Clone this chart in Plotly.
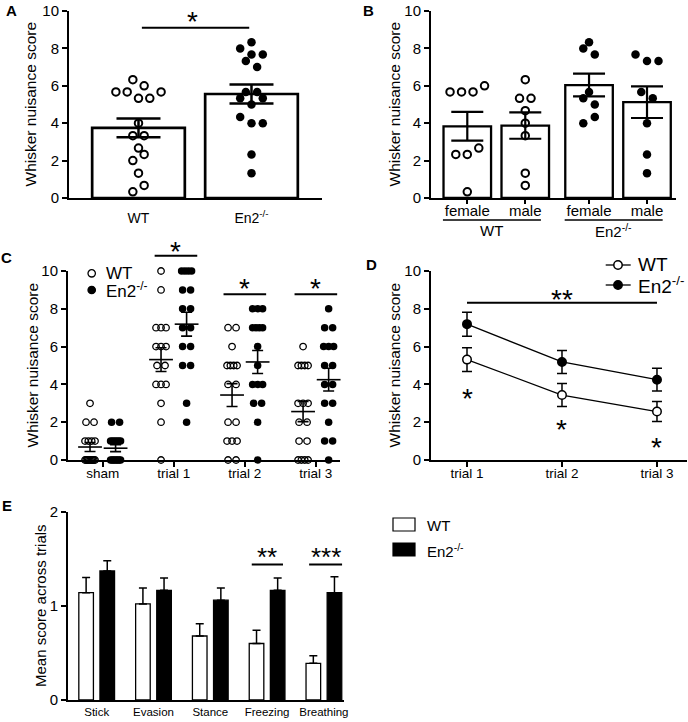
import numpy as np
import plotly.graph_objects as go

W, H = 688, 722
FONT = "Liberation Sans, Arial, Helvetica, sans-serif"

# ---------------- data ----------------
# Panel A : mean whisker nuisance score per mouse
a_groups = ["WT", "En2<sup>-/-</sup>"]
a_wt = [6.33, 6.0, 5.67, 5.67, 5.33, 5.33, 5.67, 4.0, 3.33, 3.33, 2.67, 2.0, 2.33, 1.33, 0.33, 0.67]
a_ko = [8.33, 8.0, 7.67, 7.67, 7.33, 7.0, 5.67, 5.67, 5.33, 5.0, 5.33, 4.33, 4.0, 4.0, 2.33, 1.33]

# Panel B : split by sex
b_sex = ["female", "male", "female", "male"]
b_genotypes = ["WT", "En2<sup>-/-</sup>"]
b_wt_f = [5.67, 5.67, 5.67, 6.0, 2.33, 2.33, 2.67, 0.33]
b_wt_m = [6.33, 5.33, 5.33, 4.67, 4.0, 3.33, 1.33, 0.67]
b_ko_f = [8.33, 8.0, 7.67, 5.67, 5.33, 5.0, 4.0, 4.33]
b_ko_m = [7.67, 7.33, 7.33, 5.67, 5.33, 4.0, 2.33, 1.33]

# Panel C / D : scores per trial
trials = ["sham", "trial 1", "trial 2", "trial 3"]
c_wt_sham = [3, 2, 2, 1, 1, 1, 1, 0, 0, 0, 0, 0, 0, 0, 0, 0]
c_ko_sham = [2, 2, 1, 1, 1, 1, 1, 1, 0, 0, 0, 0, 0, 0, 0, 0]
c_wt_t1 = [10, 9, 7, 7, 7, 6, 6, 6, 5, 5, 4, 4, 4, 3, 2, 0]
c_ko_t1 = [10, 10, 10, 10, 9, 9, 8, 8, 7, 7, 6, 6, 5, 5, 3, 2]
c_wt_t2 = [7, 7, 6, 5, 5, 5, 5, 4, 4, 2, 2, 1, 1, 1, 0, 0]
c_ko_t2 = [8, 8, 8, 7, 7, 7, 7, 6, 5, 4, 4, 4, 3, 3, 2, 0]
c_wt_t3 = [6, 5, 5, 5, 5, 3, 3, 3, 2, 2, 1, 1, 0, 0, 0, 0]
c_ko_t3 = [8, 7, 7, 6, 6, 6, 5, 5, 4, 4, 3, 3, 2, 1, 1, 0]

# Panel E : mean score across trials per behaviour
e_behaviours = ["Stick", "Evasion", "Stance", "Freezing", "Breathing"]
e_wt_mean = [1.14, 1.02, 0.68, 0.60, 0.39]
e_wt_sem = [0.16, 0.17, 0.13, 0.14, 0.08]
e_ko_mean = [1.37, 1.165, 1.06, 1.165, 1.14]
e_ko_sem = [0.11, 0.13, 0.13, 0.13, 0.17]


# ---------------- helpers ----------------
def mean(v):
    return float(np.mean(v))


def sem(v):
    return float(np.std(v, ddof=1) / np.sqrt(len(v)))


def swarm(values, center, ppx, ppy, spacing, row_px=11.0, max_span=None):
    order = sorted(range(len(values)), key=lambda i: values[i])
    rows = []
    for i in order:
        if rows and (values[i] - values[rows[-1][0]]) * ppy < row_px:
            rows[-1].append(i)
        else:
            rows.append([i])
    xs = [center] * len(values)
    for r in rows:
        r = sorted(r)
        n = len(r)
        sp = spacing
        if max_span is not None and n > 1:
            sp = min(sp, max_span / (n - 1))
        for k, i in enumerate(r):
            xs[i] = center + (k - (n - 1) / 2) * sp / ppx
    return xs


def xax(px0, px1, rng, anchor, **kw):
    d = dict(domain=[px0 / W, px1 / W], range=rng, anchor=anchor, showline=True,
             linecolor="black", linewidth=2, showgrid=False, zeroline=False,
             automargin=False,
             ticks="outside", tickcolor="black", tickwidth=2, ticklen=5,
             tickfont=dict(family=FONT, size=14, color="black"), fixedrange=True)
    d.update(kw)
    return d


def yax(py_top, py_bot, rng, anchor, tickvals, **kw):
    d = dict(domain=[1 - py_bot / H, 1 - py_top / H], range=rng, anchor=anchor,
             showline=True, linecolor="black", linewidth=2, showgrid=False,
             zeroline=False, automargin=False, ticks="outside", tickcolor="black", tickwidth=2,
             ticklen=5, tickvals=tickvals,
             tickfont=dict(family=FONT, size=15, color="black"), fixedrange=True)
    d.update(kw)
    return d


fig = go.Figure()
annotations = []
shapes = []


def ann(x, y, text, size, **kw):
    a = dict(x=x / W, y=1 - y / H, xref="paper", yref="paper", text=text, showarrow=False,
             xanchor="center", yanchor="middle",
             font=dict(family=FONT, size=size, color="black"))
    a.update(kw)
    annotations.append(a)


def star(x, y, text, xref, yref, size=28):
    annotations.append(dict(x=x, y=y, xref=xref, yref=yref, text=text, showarrow=False,
                            xanchor="center", yanchor="middle", yshift=-0.23 * size,
                            font=dict(family=FONT, size=size, color="black")))


def hline(x0, x1, y, xref, yref, width=2):
    shapes.append(dict(type="line", x0=x0, x1=x1, y0=y, y1=y, xref=xref, yref=yref,
                       line=dict(color="black", width=width)))


# ---------------- Panel A ----------------
A_px = (69, 322)
A_rng = [-0.615, 1.624]
A_py = (11, 198)
ppx_a = (A_px[1] - A_px[0]) / (A_rng[1] - A_rng[0])
ppy_a = (A_py[1] - A_py[0]) / 10.0
a_sets = [a_wt, a_ko]
fig.add_trace(go.Bar(x=[0, 1], y=[mean(v) for v in a_sets], width=0.82,
                     marker=dict(color="white", line=dict(color="black", width=2.7)),
                     error_y=dict(type="data", array=[sem(v) for v in a_sets], width=22,
                                  thickness=2.5, color="black"),
                     xaxis="x", yaxis="y"))
for i, v in enumerate(a_sets):
    xs = swarm(v, i, ppx_a, ppy_a, 11.3)
    fig.add_trace(go.Scatter(x=xs, y=v, mode="markers", cliponaxis=False,
                             marker=dict(symbol="circle-open" if i == 0 else "circle",
                                         size=7.5 if i == 0 else 8.5, color="black",
                                         line=dict(width=2 if i == 0 else 0, color="black")),
                             xaxis="x", yaxis="y"))
hline(0.03, 0.98, 9.1, "x", "y")
star(0.48, 9.79, "*", "x", "y")

# ---------------- Panel B ----------------
B_px = (431, 676)
B_rng = [-0.626, 3.6]
ppx_b = (B_px[1] - B_px[0]) / (B_rng[1] - B_rng[0])
b_sets = [b_wt_f, b_wt_m, b_ko_f, b_ko_m]
b_pos = [g * 2.1 + s for g in range(2) for s in range(2)]
fig.add_trace(go.Bar(x=b_pos, y=[mean(v) for v in b_sets], width=0.82,
                     marker=dict(color="white", line=dict(color="black", width=2.3)),
                     error_y=dict(type="data", array=[sem(v) for v in b_sets], width=16,
                                  thickness=2.2, color="black"),
                     xaxis="x2", yaxis="y2"))
for k, v in enumerate(b_sets):
    wt = k < 2
    xs = swarm(v, b_pos[k], ppx_b, ppy_a, 11.5)
    fig.add_trace(go.Scatter(x=xs, y=v, mode="markers", cliponaxis=False,
                             marker=dict(symbol="circle-open" if wt else "circle",
                                         size=7.5 if wt else 8.5, color="black",
                                         line=dict(width=2 if wt else 0, color="black")),
                             xaxis="x2", yaxis="y2"))
for g in range(2):
    x0 = b_pos[2 * g] - 0.42
    x1 = b_pos[2 * g + 1] + 0.27
    hline(x0, x1, 1 - 220 / H, "x2", "paper", width=1.5)
    annotations.append(dict(x=(x0 + x1) / 2, y=1 - 231 / H, xref="x2", yref="paper",
                            text=b_genotypes[g], showarrow=False,
                            xanchor="center", yanchor="middle",
                            font=dict(family=FONT, size=15, color="black")))

# ---------------- Panel C ----------------
C_px = (68, 340)
C_rng = [-0.49, 3.34]
C_py = (271, 460)
ppx_c = (C_px[1] - C_px[0]) / (C_rng[1] - C_rng[0])
ppy_c = (C_py[1] - C_py[0]) / 10.0
c_wt_sets = [c_wt_sham, c_wt_t1, c_wt_t2, c_wt_t3]
c_ko_sets = [c_ko_sham, c_ko_t1, c_ko_t2, c_ko_t3]
for i in range(4):
    for g, sets in enumerate([c_wt_sets, c_ko_sets]):
        v = sets[i]
        center = i + (-0.18 if g == 0 else 0.18)
        xs = swarm(v, center, ppx_c, ppy_c, 8.0, max_span=10.0)
        fig.add_trace(go.Scatter(x=xs, y=v, mode="markers", cliponaxis=False,
                                 marker=dict(symbol="circle-open" if g == 0 else "circle",
                                             size=6.5 if g == 0 else 7.5, color="black",
                                             line=dict(width=1.3 if g == 0 else 0, color="black")),
                                 xaxis="x3", yaxis="y3"))
        fig.add_trace(go.Scatter(x=[center], y=[mean(v)], mode="markers", cliponaxis=False,
                                 marker=dict(symbol="line-ew", size=17,
                                             line=dict(width=1.6, color="black")),
                                 error_y=dict(type="data", array=[sem(v)], width=5.5,
                                              thickness=1.6, color="black"),
                                 xaxis="x3", yaxis="y3"))
# trial 1 bracket sits above the axis range -> paper y
hline(1 - 0.27, 1 + 0.33, 1 - 255.7 / H, "x3", "paper")
star(1.03, 1 - 245 / H, "*", "x3", "paper")
for i in (2, 3):
    hline(i - 0.3, i + 0.3, 8.77, "x3", "y3")
    star(i, 9.43, "*", "x3", "y3")
# legend C
for k, (lab, fill) in enumerate([("WT", "white"), ("En2<sup>-/-</sup>", "black")]):
    cy = 273.3 + 16.7 * k
    r = 3.7
    shapes.append(dict(type="circle", xref="paper", yref="paper",
                       x0=(91.7 - r) / W, x1=(91.7 + r) / W, y0=1 - (cy + r) / H, y1=1 - (cy - r) / H,
                       fillcolor=fill, line=dict(color="black", width=1.3)))
    ann(104, cy, lab, 17, xanchor="left")

# ---------------- Panel D ----------------
D_px = (431, 687)
D_rng = [-0.379, 2.316]
d_wt_mean = [mean(v) for v in c_wt_sets[1:]]
d_ko_mean = [mean(v) for v in c_ko_sets[1:]]
d_wt_sem = [sem(v) for v in c_wt_sets[1:]]
d_ko_sem = [sem(v) for v in c_ko_sets[1:]]
for m, s, fill in [(d_wt_mean, d_wt_sem, "white"), (d_ko_mean, d_ko_sem, "black")]:
    fig.add_trace(go.Scatter(x=[0, 1, 2], y=m, mode="lines+markers", cliponaxis=False,
                             line=dict(color="black", width=1.3),
                             marker=dict(symbol="circle", size=8.5, color=fill,
                                         line=dict(color="black", width=1.5)),
                             error_y=dict(type="data", array=s, width=5, thickness=1.5,
                                          color="black"),
                             xaxis="x4", yaxis="y4"))
hline(0, 2, 8.32, "x4", "y4")
star(1, 8.82, "**", "x4", "y4")
for i, yv in enumerate([3.6, 1.95, 1.0]):
    star(i, yv, "*", "x4", "y4")
# legend D
for k, (lab, fill) in enumerate([("WT", "white"), ("En2<sup>-/-</sup>", "black")]):
    cy = 265 + 20 * k
    shapes.append(dict(type="line", xref="paper", yref="paper", x0=605.7 / W, x1=630.7 / W,
                       y0=1 - cy / H, y1=1 - cy / H, line=dict(color="black", width=1.3)))
    r = 4.2
    shapes.append(dict(type="circle", xref="paper", yref="paper",
                       x0=(618 - r) / W, x1=(618 + r) / W, y0=1 - (cy + r) / H, y1=1 - (cy - r) / H,
                       fillcolor=fill, line=dict(color="black", width=1.5)))
    ann(636, cy, lab, 19, xanchor="left")

# ---------------- Panel E ----------------
E_px = (68, 344)
E_rng = [-0.505, 4.354]
e_idx = list(range(len(e_behaviours)))
for m, s, fill, off in [(e_wt_mean, e_wt_sem, "white", -0.186), (e_ko_mean, e_ko_sem, "black", 0.186)]:
    fig.add_trace(go.Bar(x=[i + off for i in e_idx], y=m, width=0.257,
                         marker=dict(color=fill, line=dict(color="black", width=1.3)),
                         error_y=dict(type="data", symmetric=False, array=s,
                                      arrayminus=[0] * len(s), width=4, thickness=1.5,
                                      color="black"),
                         xaxis="x5", yaxis="y5"))
hline(3 - 0.27, 3 + 0.28, 1.44, "x5", "y5")
star(3.0, 1.585, "**", "x5", "y5", size=26)
hline(4 - 0.26, 4 + 0.32, 1.44, "x5", "y5")
star(4.03, 1.585, "***", "x5", "y5", size=26)
# legend E
for k, (lab, fill) in enumerate([("WT", "white"), ("En2<sup>-/-</sup>", "black")]):
    y0 = 518 + 25 * k
    shapes.append(dict(type="rect", xref="paper", yref="paper", x0=393 / W, x1=415 / W,
                       y0=1 - (y0 + 13) / H, y1=1 - y0 / H, fillcolor=fill,
                       line=dict(color="black", width=1.2)))
    ann(425, y0 + 7, lab, 15, xanchor="left")

# ---------------- axis titles & panel letters ----------------
ytitle = "Whisker nuisance score"
ann(30, 104.5, ytitle, 15.5, textangle=-90)
ann(394, 104.5, ytitle, 15.5, textangle=-90)
ann(32, 365.5, ytitle, 15.5, textangle=-90)
ann(394, 365.5, ytitle, 15.5, textangle=-90)
ann(40, 606, "Mean score across trials", 15, textangle=-90)
for letter, x, y in [("A", 11, 11), ("B", 369, 11), ("C", 6, 258), ("D", 371, 265), ("E", 7, 505)]:
    ann(x, y, "<b>%s</b>" % letter, 15)

ticks10 = [0, 2, 4, 6, 8, 10]
fig.update_layout(
    template="none",
    width=W, height=H, margin=dict(l=0, r=0, t=0, b=0, pad=0, autoexpand=False),
    paper_bgcolor="white", plot_bgcolor="white", showlegend=False,
    font=dict(family=FONT, color="black"),
    barmode="overlay",
    xaxis=xax(*A_px, A_rng, "y", tickvals=[0, 1], ticktext=a_groups, ticks="",
              ticklabelstandoff=6),
    yaxis=yax(*A_py, [0, 10], "x", ticks10),
    xaxis2=xax(*B_px, B_rng, "y2", tickvals=b_pos, ticktext=b_sex, ticklen=4,
               ticklabelstandoff=-6,
               tickfont=dict(family=FONT, size=15, color="black")),
    yaxis2=yax(*A_py, [0, 10], "x2", ticks10),
    xaxis3=xax(*C_px, C_rng, "y3", tickvals=list(range(4)), ticktext=trials,
               ticklabelstandoff=-5,
               tickfont=dict(family=FONT, size=13.5, color="black")),
    yaxis3=yax(*C_py, [0, 10], "x3", ticks10),
    xaxis4=xax(*D_px, D_rng, "y4", tickvals=[0, 1, 2], ticktext=trials[1:],
               ticklabelstandoff=-5,
               tickfont=dict(family=FONT, size=13.5, color="black")),
    yaxis4=yax(*C_py, [0, 10], "x4", ticks10),
    xaxis5=xax(*E_px, E_rng, "y5", tickvals=e_idx, ticktext=e_behaviours, ticks="",
               tickfont=dict(family=FONT, size=11.5, color="black")),
    yaxis5=yax(511.7, 700, [0, 2], "x5", [0, 1, 2]),
    annotations=annotations,
    shapes=shapes,
)

fig.write_html("out.html", config={"displayModeBar": False},
               post_script="document.body.style.margin='0px';")
